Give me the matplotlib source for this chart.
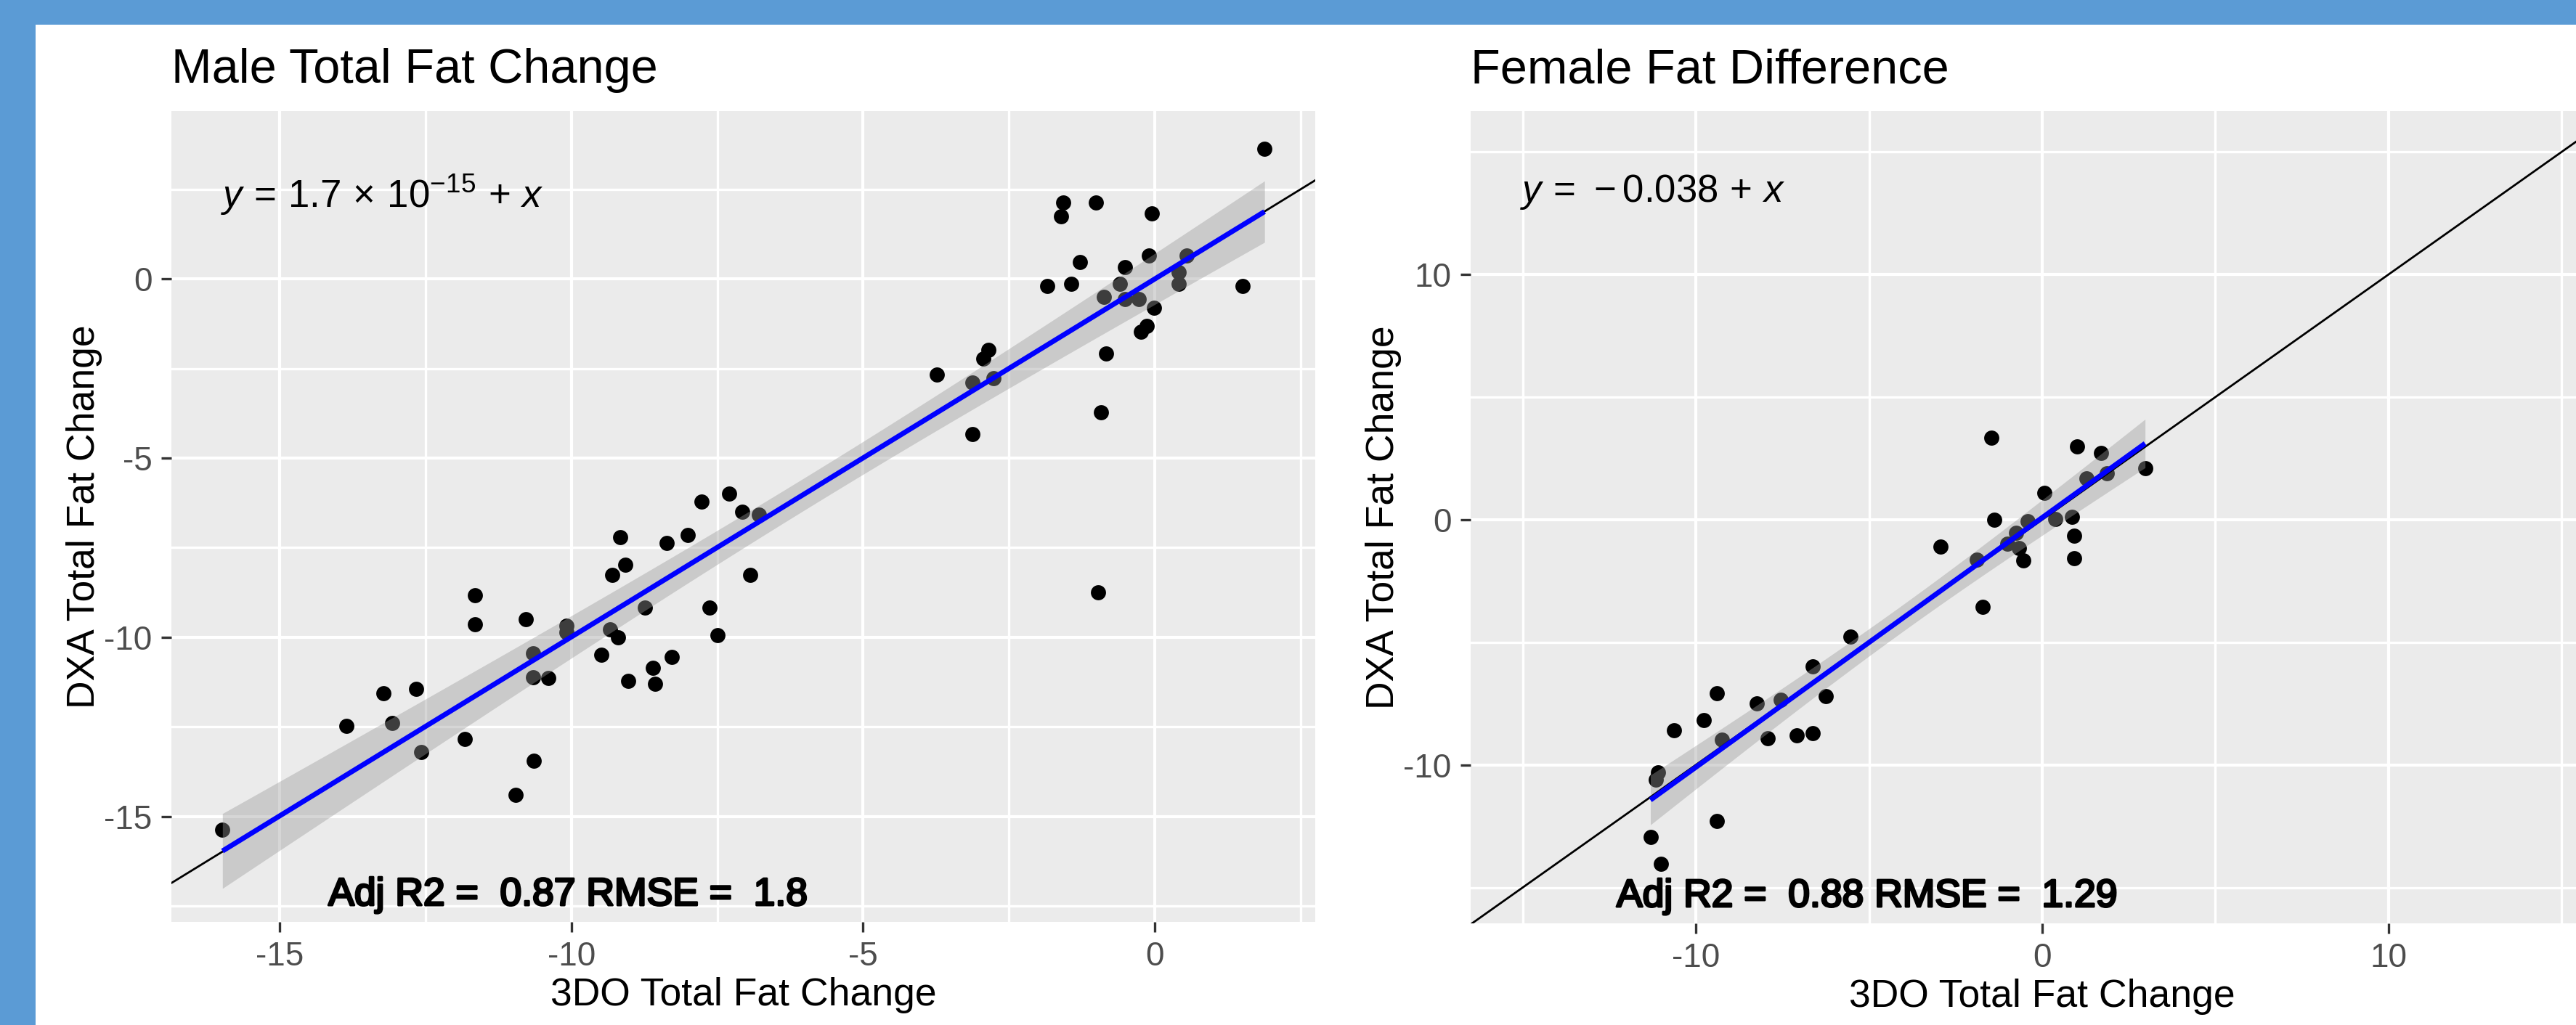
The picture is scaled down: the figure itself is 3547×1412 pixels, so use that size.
import numpy as np
import matplotlib
matplotlib.use('Agg')
import matplotlib.pyplot as plt
from matplotlib.patches import Rectangle
import matplotlib.patheffects as pe

plt.rcParams['font.family'] = ['Liberation Sans', 'DejaVu Sans']
plt.rcParams['mathtext.fontset'] = 'custom'
plt.rcParams['mathtext.rm'] = 'Liberation Sans'
plt.rcParams['mathtext.it'] = 'Liberation Sans:italic'
plt.rcParams['mathtext.bf'] = 'Liberation Sans:bold'

# ---------------- data ----------------
male_3do = [1.88, -1.57, -1.01, -1.61, -0.05, -1.29, -0.10, -0.51, -1.85, -1.43,
            1.51, 0.55, 0.41, 0.41, -0.60, -0.87, -0.51, -0.28, -0.01, -0.14,
            -0.24, -0.83, -0.92, -2.85, -2.94, -3.73, -3.12, -2.76, -3.12, -0.97,
            -7.30, -7.77, -7.07, -6.79, -9.16, -8.37, -8.00, -9.07, -9.30, -6.94,
            -8.74, -7.63, -7.49, -9.34, -9.20, -9.49, -8.28, -8.60, -9.02, -8.56,
            -11.65, -11.65, -10.78, -10.08, -10.08, -10.66, -10.66, -10.39, -13.22, -12.66,
            -13.07, -13.85, -11.83, -12.57, -10.64, -10.95, -15.98]
male_dxa = [3.63, 2.13, 2.13, 1.75, 1.82, 0.47, 0.64, 0.33, -0.20, -0.13,
            -0.20, 0.65, 0.19, -0.13, -0.14, -0.51, -0.57, -0.57, -0.80, -1.31,
            -1.48, -2.08, -3.73, -1.99, -2.23, -2.67, -2.90, -2.77, -4.33, -8.75,
            -5.99, -6.22, -6.49, -6.58, -7.21, -7.36, -7.14, -7.97, -8.27, -8.27,
            -9.18, -9.18, -9.95, -9.78, -10.01, -10.48, -10.55, -10.86, -11.22, -11.30,
            -8.83, -9.64, -9.50, -9.68, -9.85, -10.44, -11.11, -11.13, -11.56, -11.43,
            -12.40, -12.47, -12.84, -13.21, -13.44, -14.40, -15.36]

female_3do = [-5.54, -6.62, -9.39, -8.23, -7.54, -6.24, -9.77, -10.62, -9.24, -7.92,
              -7.08, -6.62, -11.10, -11.15, -9.39, -11.31, -11.01,
              -1.47, 1.01, 1.70, 2.97, 1.87, 1.27, 0.07, -1.39, -0.42,
              0.38, 0.85, -2.94, 0.93, 0.93, -0.54, -0.76, -1.01, -0.68, -1.89, -1.71]
female_dxa = [-4.78, -5.98, -7.08, -7.50, -7.35, -7.19, -8.16, -8.60, -8.97, -8.92,
              -8.80, -8.71, -10.30, -10.60, -12.28, -12.94, -14.04,
              3.33, 3.00, 2.73, 2.11, 1.88, 1.68, 1.09, -0.01, -0.06,
              0.02, 0.12, -1.11, -0.66, -1.57, -1.67, -0.55, -0.98, -1.15, -1.62, -3.56]

male_xticks = [-15, -10, -5, 0]
male_xticklabels = ['-15', '-10', '-5', '0']
male_xminor = [-12.5, -7.5, -2.5, 2.5]
male_yticks = [-15, -10, -5, 0]
male_yticklabels = ['-15', '-10', '-5', '0']
male_yminor = [-17.5, -12.5, -7.5, -2.5, 2.5]

female_xticks = [-10, 0, 10]
female_xticklabels = ['-10', '0', '10']
female_xminor = [-15, -5, 5, 15]
female_yticks = [-10, 0, 10]
female_yticklabels = ['-10', '0', '10']
female_yminor = [-15, -5, 5, 15]

titles = ['Male Total Fat Change', 'Female Fat Difference']
equations = [r'$y\,=\,1.7\,\times\,10^{-15}\,+\,x$', r'$y\,=\,-0.038\,+\,x$']
stat_labels = ['Adj R2 =  0.87 RMSE =  1.8', 'Adj R2 =  0.88 RMSE =  1.29']
x_title = '3DO Total Fat Change'
y_title = 'DXA Total Fat Change'

# ---------------- layout ----------------
W, H = 3548, 1412
DPI = 100
fig = plt.figure(figsize=(W / DPI, H / DPI), dpi=DPI, facecolor='white')
BLUE_BG = '#5B9BD5'
fig.add_artist(Rectangle((0, 1 - 34 / H), 1, 34 / H, transform=fig.transFigure,
                         facecolor=BLUE_BG, edgecolor='none', zorder=0))
fig.add_artist(Rectangle((0, 0), 49 / W, 1, transform=fig.transFigure,
                         facecolor=BLUE_BG, edgecolor='none', zorder=0))


def box(l, t, r, b):
    return [l / W, 1 - b / H, (r - l) / W, (b - t) / H]


axL = fig.add_axes(box(236, 153, 1811, 1270))
axR = fig.add_axes(box(2025, 153, 3599, 1272))


def t_quant(df):
    z = 1.959964
    return z + (z ** 3 + z) / (4 * df) + (5 * z ** 5 + 16 * z ** 3 + 3 * z) / (96 * df ** 2)


def panel(ax, x, y, xlim, ylim, xt, xtl, xmin, yt, ytl, ymin, title, eq, stat):
    x = np.asarray(x, float)
    y = np.asarray(y, float)
    ax.set_facecolor('#EBEBEB')
    ax.set_xlim(xlim)
    ax.set_ylim(ylim)
    ax.set_xticks(xt)
    ax.set_xticklabels(xtl)
    ax.set_xticks(xmin, minor=True)
    ax.set_yticks(yt)
    ax.set_yticklabels(ytl)
    ax.set_yticks(ymin, minor=True)
    ax.set_axisbelow(True)
    ax.grid(which='major', color='white', lw=3.0)
    ax.grid(which='minor', color='white', lw=2.4)
    for s in ax.spines.values():
        s.set_visible(False)
    ax.tick_params(which='major', length=10, width=2.4, color='#333333',
                   labelsize=33, labelcolor='#4D4D4D', pad=9)
    ax.tick_params(which='minor', length=0)

    ax.scatter(x, y, s=225, color='black', linewidths=0, zorder=2)

    n = len(x)
    b1, b0 = np.polyfit(x, y, 1)
    resid = y - (b0 + b1 * x)
    sd = np.sqrt(np.sum(resid ** 2) / (n - 2))
    xs = np.linspace(x.min(), x.max(), 80)
    ys = b0 + b1 * xs
    se = sd * np.sqrt(1 / n + (xs - x.mean()) ** 2 / np.sum((x - x.mean()) ** 2))
    tq = t_quant(n - 2)
    ax.fill_between(xs, ys - tq * se, ys + tq * se, color='#999999', alpha=0.4,
                    lw=0, zorder=3)
    ax.axline((0, 0), slope=1, color='black', lw=2.0, zorder=3.5)
    ax.plot(xs, ys, color='#0000FF', lw=5, zorder=4, solid_capstyle='butt')

    ax.set_title(title, loc='left', fontsize=48, pad=28, color='black')
    ax.set_xlabel(x_title, fontsize=38.5, labelpad=4, color='black')
    ax.set_ylabel(y_title, fontsize=38.5, labelpad=2, color='black')
    ax.text(0.043, 0.924, eq, transform=ax.transAxes, ha='left', va='top',
            fontsize=38, color='black', zorder=6)
    ax.text(0.347, 0.0206, stat, transform=ax.transAxes, ha='center',
            va='baseline', fontsize=38.5, color='black', zorder=6,
            path_effects=[pe.withStroke(linewidth=2.2, foreground='black')])


panel(axL, male_3do, male_dxa, (-16.855, 2.749), (-17.94, 4.68),
      male_xticks, male_xticklabels, male_xminor,
      male_yticks, male_yticklabels, male_yminor,
      titles[0], equations[0], stat_labels[0])
panel(axR, female_3do, female_dxa, (-16.5, 16.5), (-16.46, 16.66),
      female_xticks, female_xticklabels, female_xminor,
      female_yticks, female_yticklabels, female_yminor,
      titles[1], equations[1], stat_labels[1])

fig.savefig('out.png', dpi=DPI, facecolor='white')
